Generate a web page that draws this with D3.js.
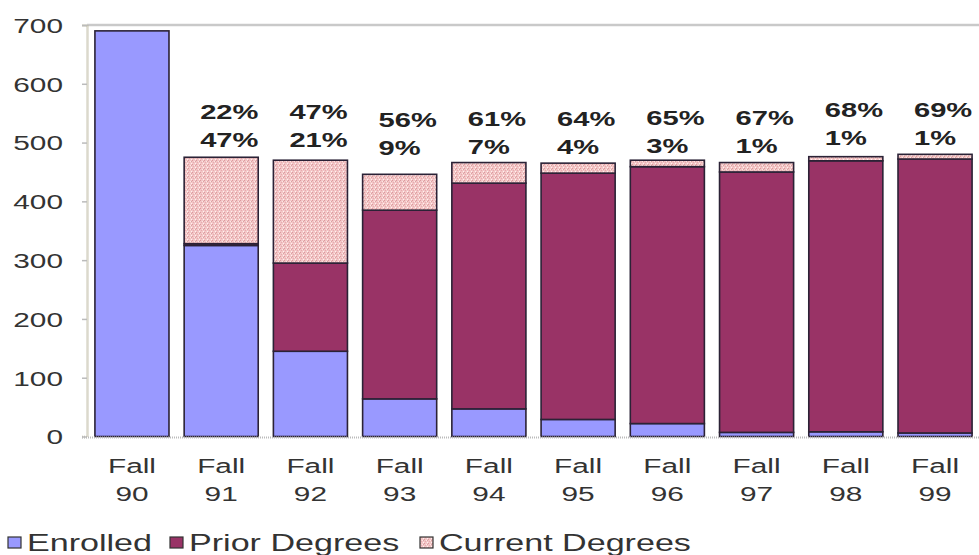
<!DOCTYPE html>
<html>
<head>
<meta charset="utf-8">
<script src="https://cdn.jsdelivr.net/npm/d3@7"></script>
<style>
  html, body { margin: 0; padding: 0; background: #fff; }
  svg { display: block; }
</style>
</head>
<body>
<svg id="chart" width="979" height="555"></svg>
<script>
// ---- data ----
const categories = ["Fall 90", "Fall 91", "Fall 92", "Fall 93", "Fall 94", "Fall 95", "Fall 96", "Fall 97", "Fall 98", "Fall 99"];
const enrolled       = [690, 325, 145, 64, 47, 29, 22, 7, 8, 6];
const priorDegrees   = [0, 3, 150, 321, 384, 419, 437, 443, 461, 466];
const currentDegrees = [0, 147, 175, 61, 35, 17, 11, 16, 7, 8];
const pctTop    = ["", "22%", "47%", "56%", "61%", "64%", "65%", "67%", "68%", "69%"];
const pctBottom = ["", "47%", "21%", "9%", "7%", "4%", "3%", "1%", "1%", "1%"];
const yTicks = [0, 100, 200, 300, 400, 500, 600, 700];
const seriesNames = ["Enrolled", "Prior Degrees", "Current Degrees"];

// ---- layout / style ----
const labelNudge = [0, 0, 0, 8, 7, 7, 6, 6, -2, -2]; // vertical nudge of annotation pairs
const SX = 1.42; // horizontal stretch of the original picture's text
const colors = { "Enrolled": "#9999ff", "Prior Degrees": "#993366", "Current Degrees": "url(#stipple)" };

const svg = d3.select("#chart");

// stipple pattern for current degrees
const defs = svg.append("defs");
const pat = defs.append("pattern").attr("id", "stipple")
  .attr("patternUnits", "userSpaceOnUse").attr("width", 4).attr("height", 4);
pat.append("rect").attr("width", 4).attr("height", 4).attr("fill", "#f3c6c6");
[[0,0,"#dc9aa0"],[2,1,"#fde6e6"],[1,2,"#e7aab0"],[3,3,"#fff2f2"],[3,1,"#d9a3a3"]].forEach(([a,b,c]) =>
  pat.append("rect").attr("x", a).attr("y", b).attr("width", 1).attr("height", 1).attr("fill", c));

const x = d3.scaleBand().domain(categories).range([86, 981]).paddingInner(0.17).paddingOuter(0.1);
const y = d3.scaleLinear().domain([0, 700]).range([436.5, 25]);

// top border of plot area
svg.append("line").attr("x1", 87).attr("x2", 979).attr("y1", y(700)).attr("y2", y(700))
  .attr("stroke", "#c9c9c9").attr("stroke-width", 2.5);

// y axis
const yAxis = svg.append("g").attr("transform", "translate(87,0)")
  .call(d3.axisLeft(y).tickValues(yTicks).tickSize(5).tickPadding(19).tickFormat(d3.format("d")));
yAxis.select(".domain").attr("stroke", "#b8b39a").attr("stroke-width", 2.5).attr("stroke-dasharray", "1,1");
yAxis.selectAll(".tick line").attr("stroke", "#bbb").attr("stroke-width", 1.5);
yAxis.selectAll(".tick text")
  .attr("font-family", "'Liberation Sans', Arial, sans-serif")
  .attr("font-size", 21).attr("fill", "#333")
  .attr("x", -24 / SX).attr("dy", "0.35em")
  .attr("transform", `scale(${SX},1)`);

// stacked data
const stackData = categories.map((c, i) => ({
  cat: c,
  "Enrolled": enrolled[i],
  "Prior Degrees": priorDegrees[i],
  "Current Degrees": currentDegrees[i]
}));
const stacked = d3.stack().keys(seriesNames)(stackData);

svg.append("g").selectAll("g").data(stacked).join("g")
  .attr("fill", d => colors[d.key])
  .selectAll("rect").data(d => d.filter(p => p[1] - p[0] > 0)).join("rect")
  .attr("x", d => x(d.data.cat))
  .attr("width", x.bandwidth())
  .attr("y", d => y(d[1]))
  .attr("height", d => Math.max(1, y(d[0]) - y(d[1])))
  .attr("stroke", "#2b2236").attr("stroke-width", 1.6);

// x baseline
svg.append("line").attr("x1", 82).attr("x2", 979).attr("y1", y(0) + 1).attr("y2", y(0) + 1)
  .attr("stroke", "#bbb").attr("stroke-width", 2).attr("stroke-dasharray", "1,1");

// x category labels (two lines)
const xl = svg.append("g").selectAll("g").data(categories).join("g")
  .attr("transform", d => `translate(${x(d) + x.bandwidth() / 2},0) scale(${SX},1)`);
xl.each(function(d) {
  const parts = d.split(" ");
  const g = d3.select(this);
  g.append("text").attr("y", 466).attr("dy", "0.35em").text(parts[0]);
  g.append("text").attr("y", 494).attr("dy", "0.35em").text(parts[1]);
});
xl.selectAll("text")
  .attr("text-anchor", "middle")
  .attr("font-family", "'Liberation Sans', Arial, sans-serif")
  .attr("font-size", 21).attr("fill", "#333");

// percentage annotations
const ann = svg.append("g").selectAll("g").data(categories.filter((c, i) => pctTop[i] !== "")).join("g")
  .attr("transform", d => {
    const i = categories.indexOf(d);
    return `translate(${x(d) + 16},${112 + labelNudge[i]}) scale(${SX},1)`;
  });
ann.append("text").attr("y", 0).attr("dy", "0.35em").text(d => pctTop[categories.indexOf(d)]);
ann.append("text").attr("y", 28).attr("dy", "0.35em").text(d => pctBottom[categories.indexOf(d)]);
ann.selectAll("text")
  .attr("font-family", "'Liberation Sans', Arial, sans-serif")
  .attr("font-weight", "bold").attr("font-size", 20.5).attr("fill", "#222");

// legend
const legendX = [8, 170, 420];
const lg = svg.append("g").selectAll("g").data(seriesNames).join("g")
  .attr("transform", (d, i) => `translate(${legendX[i]},543)`);
lg.append("rect").attr("x", 0).attr("y", -6).attr("width", 13).attr("height", 11)
  .attr("fill", d => colors[d]).attr("stroke", "#333").attr("stroke-width", 1.2);
lg.append("text").attr("transform", `translate(19,0) scale(${SX},1)`).attr("dy", "0.35em")
  .attr("font-family", "'Liberation Sans', Arial, sans-serif")
  .attr("font-size", 24).attr("fill", "#333")
  .text(d => d);
</script>
</body>
</html>
